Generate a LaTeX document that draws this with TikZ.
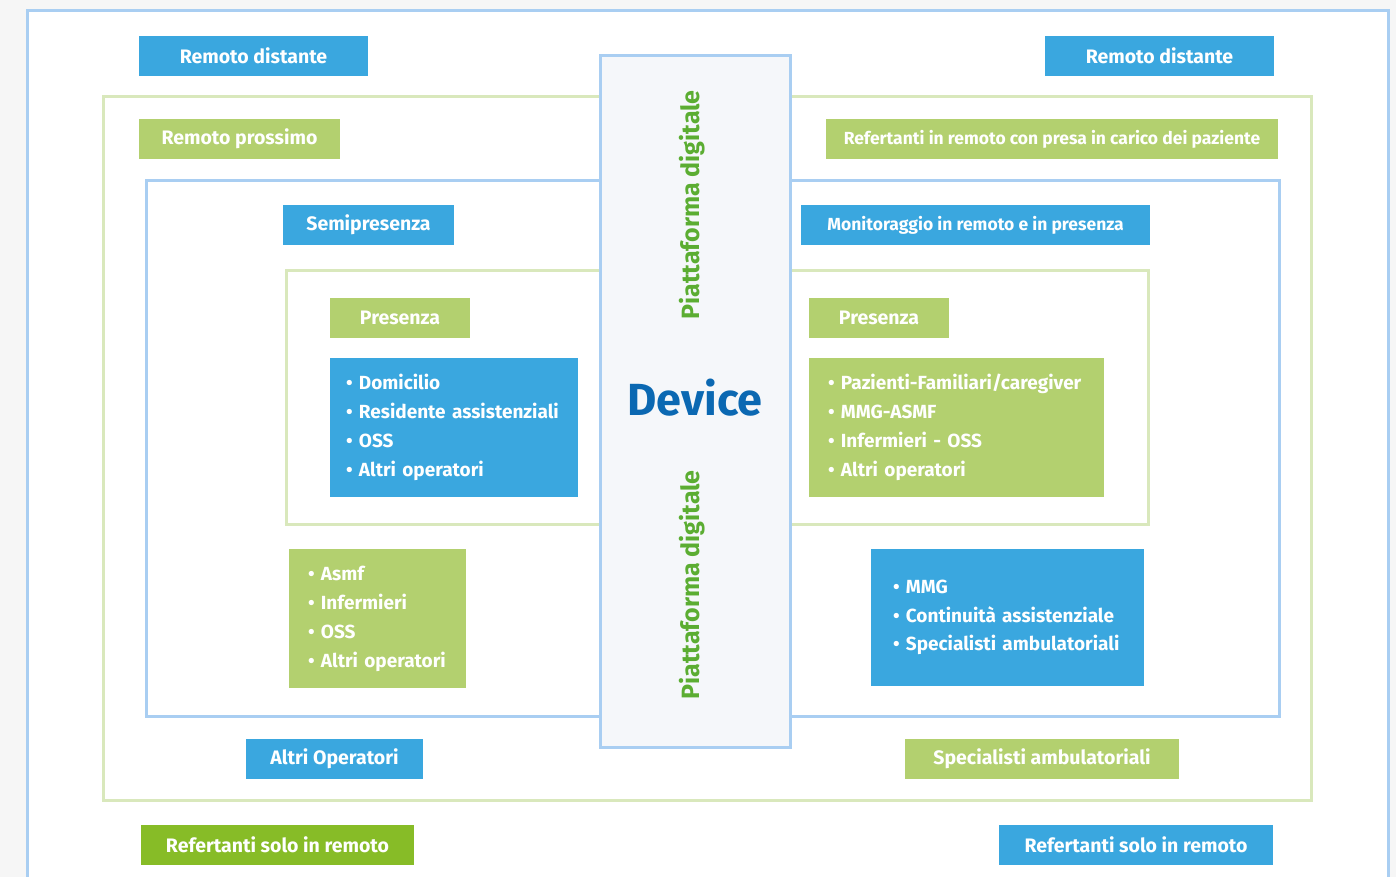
\documentclass[tikz,border=0pt]{standalone}
\usepackage{fontspec}
\setmainfont{Fira Sans}
\definecolor{pagegray}{HTML}{F6F6F6}
\definecolor{frameblue}{HTML}{A9CEF2}
\definecolor{framegreen}{HTML}{D9E8BC}
\definecolor{tagblue}{HTML}{3AA7DF}
\definecolor{taggreen}{HTML}{B3D06F}
\definecolor{taggreendark}{HTML}{87BC27}
\definecolor{columnfill}{HTML}{F5F7FA}
\definecolor{deviceblue}{HTML}{0B68B2}
\definecolor{platgreen}{HTML}{5BAD32}
\newcommand\li[1]{\mbox{\textbullet\ #1}}
\begin{document}
\begin{tikzpicture}[x=1pt,y=-1pt,
  tag/.style={rectangle, inner sep=0pt, text=white,
    font=\bfseries\fontsize{19.5}{23}\selectfont},
  bluetag/.style={tag, fill=tagblue},
  greentag/.style={tag, fill=taggreen},
  darktag/.style={tag, fill=taggreendark},
  smalltag/.style={font=\bfseries\fontsize{17.5}{21}\selectfont},
  listbox/.style={rectangle, inner ysep=0pt, text=white, align=left,
    font=\bfseries\fontsize{19}{29}\selectfont},
  zone/.style={rectangle, inner sep=0pt, line width=3pt, fill=white},
  platform/.style={text=platgreen, rotate=90,
    font=\bfseries\fontsize{25}{29}\selectfont}]
\useasboundingbox (0,0) rectangle (1396,877);
% page and outer open frame
\fill[pagegray] (0,0) rectangle (1396,877);
\fill[white] (27,11) rectangle (1388,877);
\coordinate (ol) at (27,877);
\coordinate (or) at (1388,877);
\draw[frameblue, line width=3pt] (ol) |- (1388,11) -- (or);

% nested zones
\node[zone, draw=framegreen, minimum width=1208, minimum height=703] (remprox) at (707,448.5) {};
\node[zone, draw=frameblue, minimum width=1133, minimum height=535] (semi) at (712.5,448.5) {};
\node[zone, draw=framegreen, minimum width=862, minimum height=254] (pres) at (717,397) {};

% central column
\node[rectangle, draw=frameblue, fill=columnfill, line width=3pt, inner sep=0pt,
  minimum width=190, minimum height=691, text=deviceblue, text depth=8pt,
  font=\bfseries\fontsize{45}{50}\selectfont] (device) at (695,401.5) {Device};
\node[platform] (plattop) at (692,205) {Piattaforma digitale};
\node[platform] (platbot) at (692,585) {Piattaforma digitale};

% outer labels
\node[bluetag, minimum width=229, minimum height=40] (rdl) at (253.5,56) {Remoto distante};
\node[bluetag, minimum width=229, minimum height=40] (rdr) at (1159.5,56) {Remoto distante};
\node[greentag, minimum width=201, minimum height=40] (rp) at (239.5,139) {Remoto prossimo};
\node[greentag, smalltag, minimum width=452, minimum height=40] (rpc) at (1052,139) {Refertanti in remoto con presa in carico dei paziente};
\node[bluetag, minimum width=171, minimum height=40] (sp) at (368.5,225) {Semipresenza};
\node[bluetag, smalltag, minimum width=349, minimum height=40] (mon) at (975.5,225) {Monitoraggio in remoto e in presenza};
\node[greentag, minimum width=140, minimum height=40] (prl) at (400,318) {Presenza};
\node[greentag, minimum width=140, minimum height=40] (prr) at (879,318) {Presenza};

% lists
\node[listbox, fill=tagblue, inner xsep=16, text width=216, minimum height=139] (listl) at (454,427.5)
  {\li{Domicilio}\\\li{Residente assistenziali}\\\li{OSS}\\\li{Altri operatori}};
\node[listbox, fill=taggreen, inner xsep=19, text width=257, minimum height=139] (listr) at (956.5,427.5)
  {\li{Pazienti-Familiari/caregiver}\\\li{MMG-ASMF}\\\li{Infermieri - OSS}\\\li{Altri operatori}};
\node[listbox, fill=taggreen, inner xsep=19, text width=139, minimum height=139] (listbl) at (377.5,618.5)
  {\li{Asmf}\\\li{Infermieri}\\\li{OSS}\\\li{Altri operatori}};
\node[listbox, fill=tagblue, inner xsep=22, text width=229, minimum height=137,
  font=\bfseries\fontsize{19}{28.5}\selectfont] (listbr) at (1007.5,617.5)
  {\li{MMG}\\\li{Continuità assistenziale}\\\li{Specialisti ambulatoriali}};

% bottom labels
\node[bluetag, minimum width=177, minimum height=40] (ao) at (334.5,759) {Altri Operatori};
\node[greentag, minimum width=274, minimum height=40] (sa) at (1042,759) {Specialisti ambulatoriali};
\node[darktag, minimum width=273, minimum height=40] (rsl) at (277.5,845) {Refertanti solo in remoto};
\node[bluetag, minimum width=274, minimum height=40] (rsr) at (1136,845) {Refertanti solo in remoto};
\end{tikzpicture}
\end{document}
